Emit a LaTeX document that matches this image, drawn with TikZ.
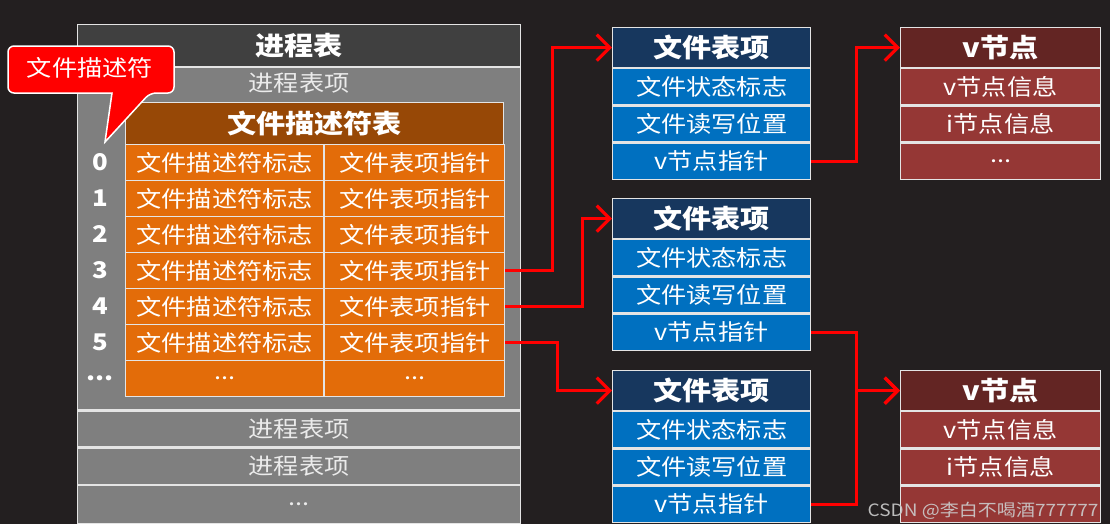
\documentclass[tikz,border=0pt]{standalone}
\usepackage{fontspec}
\setmainfont{Noto Sans CJK SC}[FakeStretch=1.12]
\usetikzlibrary{arrows.meta,positioning}

\definecolor{bgdark}{HTML}{231F20}
\definecolor{procdark}{HTML}{404040}
\definecolor{procgray}{HTML}{7F7F7F}
\definecolor{fdhead}{HTML}{974806}
\definecolor{fdcell}{HTML}{E36C09}
\definecolor{fthead}{HTML}{17375E}
\definecolor{ftcell}{HTML}{0070C0}
\definecolor{vnhead}{HTML}{632523}
\definecolor{vncell}{HTML}{953735}
\definecolor{edge}{HTML}{E4E4E4}
\newcommand\moredots{...}

\begin{document}
\begin{tikzpicture}[
  x=1pt, y=-1pt,
  cell/.style={draw=edge, line width=1.2pt, minimum height=36pt, inner sep=0pt, text=white, font=\fontsize{22.5}{25}\selectfont},
  head/.style={cell, minimum height=40pt, font=\fontsize{26}{30}\selectfont\bfseries},
  proc/.style={cell, fill=procgray, minimum width=443pt, text=white!92!black},
  fdl/.style={cell, fill=fdcell, minimum width=198pt},
  fdr/.style={cell, fill=fdcell, minimum width=180pt},
  ftbox/.style={cell, fill=ftcell, minimum width=198pt},
  vnbox/.style={cell, fill=vncell, minimum width=200pt},
  idx/.style={inner sep=0pt, text=white, font=\fontsize{23}{25}\selectfont\bfseries},
  arr/.style={-{Straight Barb[length=13pt,width=26pt]}, line width=3.2pt, red}
]
% canvas
\fill[white] (0,0) rectangle (1117,531);
\fill[bgdark] (0,0) rectangle (1110,524);

% process table
\node[head, fill=procdark, minimum width=443pt, minimum height=42pt, anchor=north west] (ptitle) at (77,24) {进程表};
\node[proc, minimum height=342pt, below=0pt of ptitle] (pitem) {};
\node[text=white!92!black, font=\fontsize{22.5}{25}\selectfont, below=2pt of pitem.north] (pitemlab) {进程表项};
\node[proc, below=0pt of pitem] (prow1) {进程表项};
\node[proc, below=0pt of prow1] (prow2) {进程表项};
\node[proc, minimum height=38pt, below=0pt of prow2] (prow3) {...};

% file descriptor table
\node[head, fill=fdhead, minimum width=378pt, minimum height=42pt, anchor=north west] (fdtitle) at (125,102) {文件描述符表};
\foreach \i/\n/\l/\r in {0/0/文件描述符标志/文件表项指针, 1/1/文件描述符标志/文件表项指针,
    2/2/文件描述符标志/文件表项指针, 3/3/文件描述符标志/文件表项指针,
    4/4/文件描述符标志/文件表项指针, 5/5/文件描述符标志/文件表项指针,
    6/\moredots/\moredots/\moredots} {
  \node[fdl, anchor=north west] (fdl\i) at (125,{144+36*\i}) {\l};
  \node[fdr, right=0pt of fdl\i] (fdr\i) {\r};
  \node[idx] (idx\i) at (100,{162+36*\i}) {\n};
}

% callout
\filldraw[fill=red, draw=white, line width=1.5pt] (8,70) [rounded corners=6pt] |- (174,46) |- (150,93)
  [sharp corners] -- (105,142) -- (112,93) [rounded corners=6pt] -| (8,70) -- cycle;
\node[text=white, font=\fontsize{22.5}{25}\selectfont] (callout) at (90,68) {文件描述符};

% file table entries
\foreach \k/\y in {1/27, 2/198, 3/370} {
  \node[head, fill=fthead, minimum width=198pt, anchor=north west] (ft\k) at (612,\y) {文件表项};
  \node[ftbox, below=0pt of ft\k] (ft\k a) {文件状态标志};
  \node[ftbox, below=0pt of ft\k a] (ft\k b) {文件读写位置};
  \node[ftbox, below=0pt of ft\k b] (ft\k c) {v节点指针};
}

% v-nodes
\node[head, fill=vnhead, minimum width=200pt, anchor=north west] (vn1) at (900,27) {v节点};
\node[vnbox, below=0pt of vn1] (vn1a) {v节点信息};
\node[vnbox, below=0pt of vn1a] (vn1b) {i节点信息};
\node[vnbox, below=0pt of vn1b] (vn1c) {...};
\node[head, fill=vnhead, minimum width=200pt, anchor=north west] (vn2) at (900,370) {v节点};
\node[vnbox, below=0pt of vn2] (vn2a) {v节点信息};
\node[vnbox, below=0pt of vn2a] (vn2b) {i节点信息};
\node[vnbox, below=0pt of vn2b] (vn2c) {};

% pointers
\draw[arr] (fdr3.east) -- ++(47,0) |- (ft1.west);
\draw[arr] (fdr4.east) -- ++(77,0) |- (ft2.west);
\draw[arr] (fdr5.east) -- ++(52,0) |- (ft3.west);
\draw[arr] (ft1c.east) -- ++(45,0) |- (vn1.west);
\draw[arr] (ft2c.east) -- ++(45,0) |- (vn2.west);
\draw[arr] (ft3c.east) -- ++(45,0) |- (vn2.west);

% watermark
\node[text=white!80!black, opacity=0.9, font=\fontsize{17}{20}\selectfont, anchor=east] (wm) at (1102,511) {CSDN @李白不喝酒777777};
\end{tikzpicture}
\end{document}
